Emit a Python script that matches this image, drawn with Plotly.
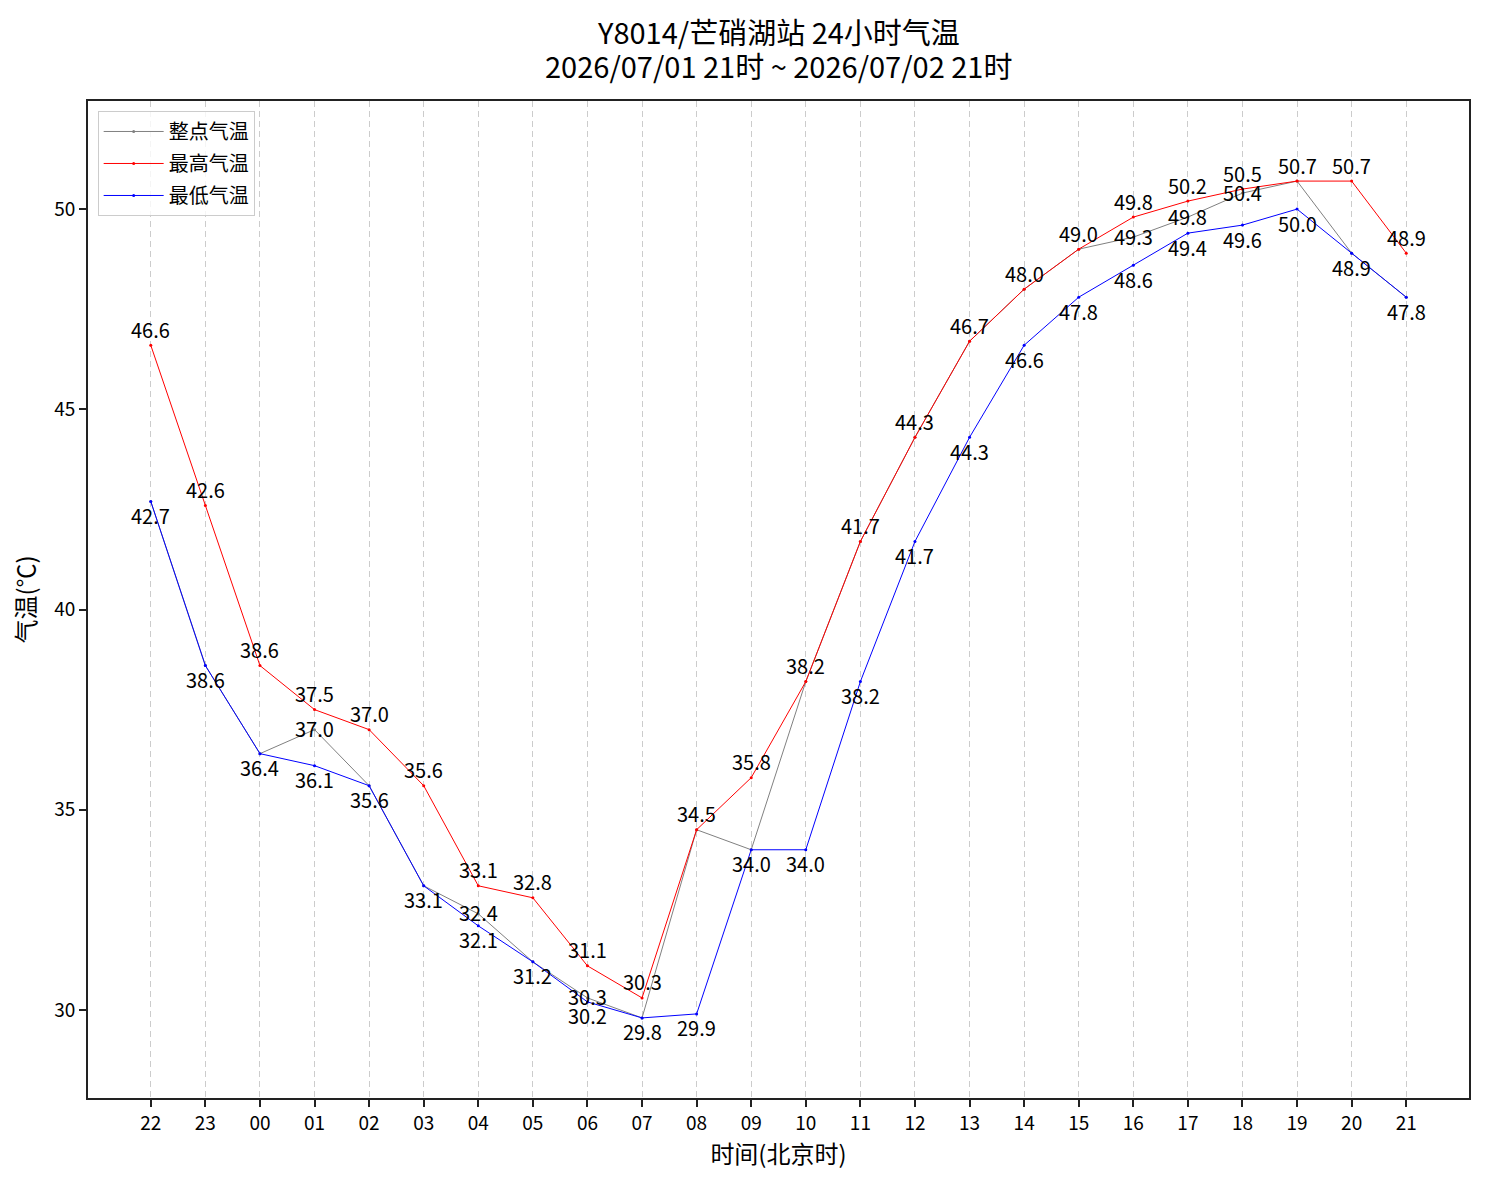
import plotly.graph_objects as go

hours = ["22", "23", "00", "01", "02", "03", "04", "05", "06", "07", "08", "09",
         "10", "11", "12", "13", "14", "15", "16", "17", "18", "19", "20", "21"]
hourly_temp = [42.7, 38.6, 36.4, 37.0, 35.6, 33.1, 32.4, 31.2, 30.3, 29.8, 34.5, 34.0,
               38.2, 41.7, 44.3, 46.7, 48.0, 49.0, 49.3, 49.8, 50.4, 50.7, 48.9, 47.8]
max_temp = [46.6, 42.6, 38.6, 37.5, 37.0, 35.6, 33.1, 32.8, 31.1, 30.3, 34.5, 35.8,
            38.2, 41.7, 44.3, 46.7, 48.0, 49.0, 49.8, 50.2, 50.5, 50.7, 50.7, 48.9]
min_temp = [42.7, 38.6, 36.4, 36.1, 35.6, 33.1, 32.1, 31.2, 30.2, 29.8, 29.9, 34.0,
            34.0, 38.2, 41.7, 44.3, 46.6, 47.8, 48.6, 49.4, 49.6, 50.0, 48.9, 47.8]

title_line1 = "Y8014/芒硝湖站 24小时气温"
title_line2 = "2026/07/01 21时 ~ 2026/07/02 21时"

FONT = "Noto Sans CJK SC, Noto Sans, sans-serif"
xs = list(range(len(hours)))

fig = go.Figure()
series = [
    ("整点气温", hourly_temp, "gray"),
    ("最高气温", max_temp, "red"),
    ("最低气温", min_temp, "blue"),
]
for name, vals, color in series:
    fig.add_trace(go.Scatter(
        x=xs, y=vals, mode="lines+markers", name=name, legendgroup=name,
        line=dict(color=color, width=1),
        marker=dict(color=color, size=3),
    ))

LBL = dict(size=20, color="black", family=FONT)
annotations = []
for i in xs:
    annotations.append(dict(x=i, y=max_temp[i], text=f"{max_temp[i]:.1f}", showarrow=False,
                            xanchor="center", yanchor="middle", yshift=16, font=LBL))
    annotations.append(dict(x=i, y=min_temp[i], text=f"{min_temp[i]:.1f}", showarrow=False,
                            xanchor="center", yanchor="middle", yshift=-14, font=LBL))
    if hourly_temp[i] != max_temp[i] and hourly_temp[i] != min_temp[i]:
        annotations.append(dict(x=i, y=hourly_temp[i], text=f"{hourly_temp[i]:.1f}", showarrow=False,
                                xanchor="center", yanchor="middle", yshift=1, font=LBL))

annotations.append(dict(xref="paper", yref="paper", x=0.5, y=1.0702, text=title_line1,
                        showarrow=False, xanchor="center", yanchor="middle",
                        font=dict(size=29, color="black", family=FONT)))
annotations.append(dict(xref="paper", yref="paper", x=0.5, y=1.0361, text=title_line2,
                        showarrow=False, xanchor="center", yanchor="middle",
                        font=dict(size=29, color="black", family=FONT)))

fig.update_layout(
    width=1485, height=1185,
    margin=dict(l=88, r=16, t=101, b=87),
    paper_bgcolor="white", plot_bgcolor="white",
    font=dict(family=FONT, size=20, color="black"),
    annotations=annotations,
    showlegend=True,
    legend=dict(x=0.007, y=0.99, xanchor="left", yanchor="top",
                bgcolor="rgba(255,255,255,0.8)", bordercolor="#cccccc", borderwidth=1,
                font=dict(size=20, family=FONT), itemwidth=60, tracegroupgap=3),
)
fig.update_xaxes(
    range=[-1.15, 24.15], tickmode="array", tickvals=xs, ticktext=hours,
    showgrid=True, gridcolor="#cccccc", griddash="6px,4px", gridwidth=1.4,
    showline=True, linecolor="#222222", linewidth=1.6, mirror=True,
    ticks="outside", ticklen=7, tickwidth=1.6, tickcolor="#222222",
    tickfont=dict(size=19), zeroline=False,
    title=dict(text="时间(北京时)", font=dict(size=24), standoff=8),
)
fig.update_yaxes(
    range=[27.8, 52.7], tickmode="array", tickvals=[30, 35, 40, 45, 50],
    showgrid=False,
    showline=True, linecolor="#222222", linewidth=1.6, mirror=True,
    ticks="outside", ticklen=7, tickwidth=1.6, tickcolor="#222222",
    tickfont=dict(size=19), zeroline=False,
    title=dict(text="气温(℃)", font=dict(size=24), standoff=12),
)

fig.write_html("out.html")
